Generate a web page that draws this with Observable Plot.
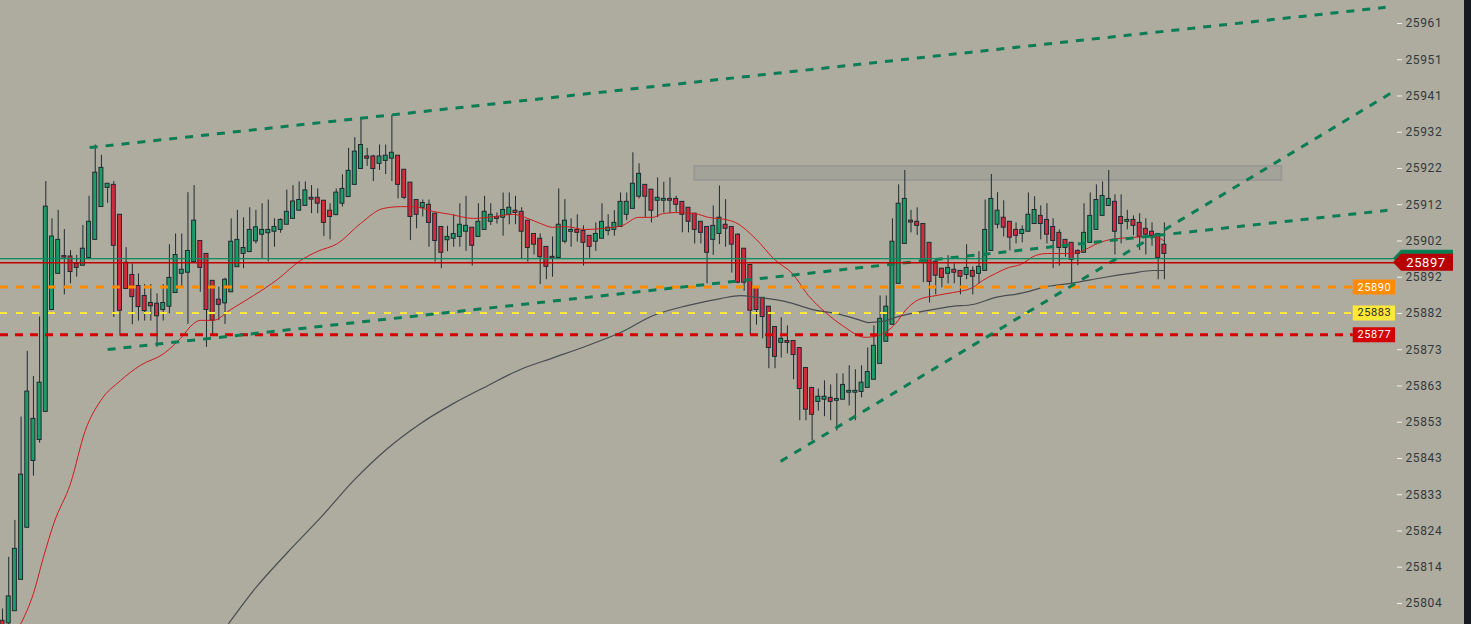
<!DOCTYPE html>
<html>
<head>
<meta charset="utf-8">
<script src="https://cdn.jsdelivr.net/npm/d3@7"></script>
<script src="https://cdn.jsdelivr.net/npm/@observablehq/plot@0.6"></script>
<style>
  html, body { margin: 0; padding: 0; background: #141a20; overflow: hidden; }
  #chart svg { display: block; }
  #chart svg text { letter-spacing: 0.6px; }
</style>
</head>
<body>
<div id="chart"></div>
<script>
// bougies (index 0..188), prix
const openP = [
  25799.2, 25798.5, 25801.8, 25810.3, 25824.4, 25842.5, 25848.2, 25855.8, 25883.4, 25893.2,
  25898.0, 25897.9, 25895.9, 25895.4, 25897.5, 25902.4, 25911.3, 25916.5, 25917.3, 25909.2,
  25896.2, 25892.9, 25889.9, 25887.2, 25885.3, 25885.1, 25883.4, 25884.3, 25888.0, 25893.2,
  25893.5, 25896.4, 25902.1, 25898.6, 25891.3, 25886.2, 25885.2, 25888.2, 25895.0, 25898.6,
  25899.1, 25902.0, 25903.8, 25904.2, 25904.6, 25905.1, 25906.5, 25908.1, 25910.3, 25911.6,
  25913.8, 25913.8, 25913.0, 25910.3, 25909.1, 25912.2, 25914.0, 25917.3, 25921.6, 25925.0,
  25925.0, 25923.0, 25923.8, 25924.4, 25925.2, 25921.4, 25917.9, 25913.2, 25911.1, 25911.9,
  25909.5, 25905.9, 25902.3, 25902.7, 25903.2, 25904.6, 25905.7, 25903.2, 25905.1, 25907.3,
  25908.6, 25908.4, 25909.2, 25910.3, 25910.0, 25907.6, 25904.0, 25902.7, 25900.5, 25897.8,
  25897.5, 25901.9, 25904.6, 25905.1, 25904.8, 25903.5, 25901.9, 25902.7, 25904.8, 25905.1,
  25905.9, 25909.2, 25910.8, 25914.1, 25917.3, 25916.0, 25913.0, 25913.0, 25913.5, 25913.5,
  25912.7, 25911.1, 25909.5, 25907.3, 25905.9, 25902.4, 25904.0, 25906.5, 25905.9, 25903.8,
  25900.0, 25895.6, 25889.4, 25886.7, 25884.3, 25878.8, 25874.5, 25875.0, 25875.0, 25873.1,
  25867.7, 25862.3, 25858.5, 25859.1, 25859.6, 25858.8, 25859.1, 25861.0, 25861.0, 25861.2,
  25862.3, 25864.5, 25868.8, 25874.8, 25879.4, 25890.5, 25901.3, 25907.6, 25907.3, 25906.7,
  25901.6, 25896.5, 25894.6, 25893.2, 25894.3, 25894.0, 25892.9, 25894.0, 25893.2, 25894.0,
  25899.4, 25906.5, 25908.4, 25907.3, 25905.1, 25904.0, 25904.6, 25906.7, 25908.9, 25907.8,
  25905.9, 25904.3, 25902.4, 25901.6, 25899.4, 25898.9, 25901.6, 25905.1, 25908.9, 25911.6,
  25912.7, 25908.6, 25907.3, 25907.8, 25907.0, 25905.4, 25904.6, 25904.0, 25901.1
];
const highP = [
  25802.4, 25816.4, 25826.4, 25854.4, 25872.2, 25865.4, 25881.5, 25918.2, 25908.1, 25910.4,
  25905.2, 25899.5, 25898.2, 25906.3, 25914.2, 25928.1, 25925.3, 25917.6, 25918.2, 25909.2,
  25900.3, 25895.9, 25893.2, 25890.3, 25890.3, 25887.8, 25890.3, 25901.1, 25904.0, 25904.0,
  25915.2, 25917.1, 25902.1, 25898.6, 25891.3, 25889.6, 25892.0, 25908.1, 25910.4, 25908.4,
  25911.1, 25910.4, 25912.2, 25913.2, 25908.1, 25908.1, 25915.9, 25917.1, 25918.1, 25918.1,
  25917.1, 25916.2, 25913.0, 25912.2, 25916.2, 25920.0, 25927.2, 25930.1, 25935.2, 25927.2,
  25925.3, 25928.1, 25928.1, 25936.1, 25925.2, 25921.4, 25917.9, 25913.2, 25913.2, 25913.2,
  25909.5, 25905.9, 25906.1, 25909.2, 25912.2, 25914.2, 25905.7, 25912.2, 25914.2, 25912.2,
  25909.7, 25915.1, 25915.1, 25914.2, 25911.1, 25907.6, 25904.0, 25904.0, 25900.5, 25903.2,
  25916.2, 25913.3, 25908.1, 25909.2, 25906.2, 25903.5, 25907.0, 25912.2, 25909.2, 25910.3,
  25915.1, 25915.1, 25926.0, 25923.0, 25917.3, 25916.0, 25919.2, 25918.0, 25919.2, 25914.2,
  25912.7, 25911.1, 25909.5, 25907.3, 25905.9, 25911.6, 25917.0, 25913.3, 25905.9, 25904.1,
  25900.0, 25895.6, 25889.4, 25886.7, 25884.3, 25878.8, 25881.3, 25879.1, 25875.0, 25873.1,
  25867.7, 25862.3, 25862.0, 25864.2, 25863.1, 25866.1, 25866.1, 25868.3, 25867.2, 25868.3,
  25873.1, 25879.1, 25887.2, 25887.2, 25908.1, 25917.3, 25921.2, 25910.4, 25911.1, 25906.7,
  25901.6, 25896.5, 25894.6, 25898.1, 25895.9, 25894.0, 25901.1, 25895.1, 25899.2, 25913.2,
  25920.1, 25915.2, 25913.0, 25907.3, 25907.0, 25906.2, 25915.1, 25914.1, 25911.6, 25912.2,
  25908.1, 25905.1, 25902.4, 25901.6, 25899.7, 25912.2, 25915.1, 25917.3, 25918.1, 25921.2,
  25914.6, 25914.6, 25910.4, 25908.9, 25909.5, 25908.1, 25907.0, 25904.0, 25907.0
];
const lowP = [
  25797.0, 25797.5, 25801.8, 25810.3, 25824.4, 25838.4, 25847.3, 25855.8, 25883.4, 25893.2,
  25887.5, 25890.5, 25892.3, 25895.4, 25897.5, 25902.4, 25911.3, 25912.3, 25881.4, 25876.3,
  25889.1, 25879.4, 25880.4, 25880.4, 25880.4, 25873.3, 25880.4, 25882.4, 25888.0, 25889.6,
  25879.5, 25896.4, 25888.2, 25873.3, 25876.2, 25880.5, 25879.5, 25888.2, 25895.0, 25894.6,
  25899.1, 25901.3, 25897.3, 25896.4, 25900.4, 25904.2, 25906.5, 25908.1, 25910.3, 25911.6,
  25909.5, 25909.5, 25903.3, 25902.4, 25909.1, 25911.3, 25914.0, 25917.3, 25921.6, 25922.3,
  25918.2, 25921.2, 25920.1, 25918.2, 25913.5, 25913.3, 25902.2, 25905.4, 25908.6, 25900.4,
  25896.4, 25894.6, 25899.2, 25900.4, 25900.4, 25899.3, 25895.3, 25903.2, 25905.1, 25906.3,
  25906.7, 25903.4, 25906.5, 25906.5, 25897.3, 25896.4, 25898.3, 25890.3, 25891.6, 25892.3,
  25897.5, 25901.3, 25900.4, 25901.8, 25895.3, 25897.4, 25899.3, 25902.7, 25903.5, 25903.4,
  25905.9, 25907.6, 25910.8, 25913.5, 25908.4, 25907.0, 25908.4, 25909.7, 25909.5, 25909.7,
  25904.3, 25904.3, 25901.3, 25901.3, 25890.5, 25898.2, 25901.1, 25900.4, 25893.4, 25890.5,
  25888.5, 25876.7, 25879.3, 25875.6, 25867.5, 25867.5, 25870.4, 25871.5, 25864.5, 25853.4,
  25853.4, 25848.0, 25856.0, 25854.5, 25853.4, 25850.6, 25859.1, 25857.4, 25853.4, 25859.6,
  25862.3, 25864.5, 25868.8, 25874.8, 25879.4, 25890.5, 25901.3, 25904.3, 25903.6, 25890.8,
  25885.3, 25887.5, 25889.4, 25890.5, 25890.5, 25887.5, 25891.6, 25887.5, 25890.5, 25894.0,
  25899.4, 25905.4, 25903.2, 25899.4, 25901.3, 25901.6, 25904.6, 25906.7, 25902.4, 25901.3,
  25894.6, 25895.3, 25897.7, 25890.5, 25895.4, 25898.9, 25901.6, 25905.1, 25908.9, 25911.6,
  25898.3, 25901.3, 25905.1, 25903.5, 25899.5, 25898.3, 25900.7, 25891.6, 25891.6
];
const closeP = [
  25798.0, 25805.8, 25818.7, 25838.8, 25861.3, 25853.9, 25863.7, 25911.4, 25903.3, 25902.4,
  25897.6, 25893.7, 25894.8, 25900.0, 25907.3, 25920.6, 25921.9, 25917.6, 25900.8, 25883.2,
  25889.1, 25886.9, 25884.2, 25883.1, 25884.4, 25881.7, 25885.3, 25892.1, 25898.3, 25894.3,
  25899.4, 25907.6, 25894.8, 25883.4, 25880.5, 25884.8, 25891.6, 25901.9, 25902.4, 25900.2,
  25905.1, 25905.8, 25905.1, 25905.1, 25905.9, 25907.8, 25910.0, 25912.8, 25913.2, 25915.8,
  25913.3, 25912.2, 25907.0, 25908.6, 25915.2, 25916.2, 25921.1, 25926.3, 25928.1, 25924.4,
  25921.6, 25925.0, 25925.2, 25926.0, 25917.3, 25913.8, 25908.6, 25909.2, 25912.4, 25907.0,
  25902.1, 25898.9, 25903.2, 25904.0, 25906.5, 25906.2, 25900.8, 25907.3, 25910.0, 25909.2,
  25908.1, 25910.5, 25911.1, 25909.7, 25904.6, 25900.2, 25901.1, 25897.7, 25895.1, 25897.4,
  25906.5, 25907.6, 25905.1, 25904.3, 25901.6, 25900.5, 25904.0, 25907.3, 25905.7, 25907.0,
  25912.7, 25912.7, 25917.6, 25920.3, 25914.1, 25910.3, 25913.8, 25913.5, 25913.0, 25911.9,
  25909.2, 25907.3, 25905.1, 25904.3, 25898.9, 25906.2, 25908.4, 25905.4, 25901.1, 25890.8,
  25890.8, 25883.2, 25883.4, 25881.5, 25873.1, 25870.7, 25875.6, 25874.5, 25871.2, 25862.0,
  25856.4, 25855.0, 25859.9, 25859.9, 25858.5, 25859.3, 25863.1, 25861.5, 25861.5, 25863.7,
  25866.6, 25873.7, 25881.0, 25884.3, 25901.9, 25912.2, 25913.5, 25907.1, 25906.2, 25896.6,
  25891.0, 25892.7, 25892.1, 25894.8, 25893.5, 25892.4, 25894.8, 25892.4, 25895.1, 25905.1,
  25913.5, 25910.3, 25905.7, 25903.0, 25903.5, 25905.1, 25909.2, 25910.5, 25906.7, 25903.8,
  25902.1, 25900.2, 25900.2, 25897.0, 25898.6, 25904.3, 25908.9, 25913.2, 25914.3, 25913.5,
  25904.6, 25906.7, 25907.8, 25906.2, 25903.2, 25903.8, 25903.5, 25897.5, 25898.6
];

// moyenne mobile rapide (rouge), points relevés
const fastIdx = [2.9, 5.0, 6.6, 8.3, 11.0, 13.4, 15.9, 19.1, 22.3, 26.1, 28.8, 30.9, 32.0, 34.1, 36.9, 40.6,
  44.5, 48.2, 51.0, 54.2, 57.9, 61.6, 64.4, 66.5, 69.7, 72.5, 76.2, 79.5, 82.7, 85.0, 87.1, 89.0, 91.1,
  94.3, 97.1, 100.3, 102.9, 105.2, 106.8, 108.9, 112.1, 114.2, 117.0, 118.6, 121.8, 125.1, 127.8, 130.4,
  133.2, 135.9, 139.6, 141.7, 144.5, 146.1, 148.2, 151.0, 153.7, 157.0, 158.6, 160.7, 162.8, 164.7,
  167.2, 169.1, 172.8, 174.9, 176.5, 179.3, 182.5, 185.3, 186.9, 187.9];
const fastVal = [25798.2, 25806.6, 25816.3, 25825.6, 25836.4, 25850.8, 25858.9, 25864.3, 25868.4, 25871.6,
  25875.7, 25879.7, 25880.6, 25880.6, 25883.5, 25887.3, 25891.7, 25896.8, 25899.3, 25901.4, 25906.8,
  25910.9, 25911.4, 25911.4, 25910.1, 25909.3, 25908.2, 25908.7, 25909.3, 25908.2, 25906.8, 25905.8,
  25906.0, 25905.2, 25905.5, 25906.3, 25908.5, 25908.5, 25909.5, 25909.8, 25909.5, 25908.5, 25907.9,
  25907.1, 25902.8, 25896.8, 25893.3, 25887.3, 25882.7, 25879.2, 25876.0, 25876.5, 25879.7, 25883.3,
  25886.2, 25887.3, 25888.1, 25889.5, 25891.4, 25893.3, 25894.9, 25895.7, 25898.2, 25898.7, 25898.7,
  25899.5, 25900.9, 25902.5, 25903.0, 25903.3, 25903.0, 25902.2];

// moyenne mobile lente (grise)
const slowIdx = [36.6, 40.6, 46.1, 51.5, 56.8, 62.3, 67.6, 73.0, 78.5, 83.8, 89.2, 94.7, 100.0, 105.3, 110.8,
  116.2, 119.4, 122.3, 125.1, 127.8, 131.1, 134.8, 138.5, 140.1, 142.4, 144.5, 149.8, 153.7, 157.0,
  160.7, 164.7, 169.1, 172.8, 178.2, 182.5, 186.2, 187.9];
const slowVal = [25798.5, 25807.4, 25817.7, 25827.2, 25837.2, 25845.9, 25852.6, 25858.1, 25862.9, 25867.3,
  25870.5, 25873.8, 25877.3, 25881.9, 25884.6, 25886.5, 25887.3, 25886.8, 25886.2, 25885.2, 25883.5,
  25882.5, 25880.8, 25880.0, 25880.3, 25881.4, 25883.3, 25884.4, 25884.9, 25886.8, 25887.9, 25889.8,
  25890.6, 25892.2, 25893.3, 25894.1, 25894.1];

// lignes de tendance (début / fin)
const trendFromIdx = [14.1, 17.0, 125.9];
const trendFromP = [25927.4, 25872.7, 25842.4];
const trendToIdx = [223.8, 224.1, 224.6];
const trendToP = [25965.4, 25910.4, 25942.1];

// niveaux horizontaux
const levelP = [25889.6, 25882.6, 25876.7];
const levelColor = ["#ff8c00", "#ffe838", "#d40000"];
const levelTextColor = ["#ffffff", "#2a2a2a", "#ffffff"];
const levelDash = ["8,8", "7,9", "8,7"];
const levelWidth = [3, 2, 3];

// bid / ask
const bidP = 25896.2;
const askP = 25897.3;

// zone grise
const zoneIdx = [112.0, 207.0];
const zoneP = [25918.5, 25922.3];

// graduations de l'axe
const yTicks = [25803.9, 25813.72, 25823.54, 25833.36, 25843.18, 25853.0, 25862.82, 25872.64, 25882.46,
  25892.28, 25902.1, 25911.92, 25921.74, 25931.56, 25941.38, 25951.2, 25961.02];

const xDomain = [-0.33, 225.56];
const yDomain = [25798.2, 25967.25];

const candles = openP.map((o, i) => ({i, o, h: highP[i], l: lowP[i], c: closeP[i], up: closeP[i] >= o}));
const fast = fastIdx.map((i, k) => ({i, v: fastVal[k]}));
const slow = slowIdx.map((i, k) => ({i, v: slowVal[k]}));
const trends = trendFromIdx.map((i, k) => ({x1: i, y1: trendFromP[k], x2: trendToIdx[k], y2: trendToP[k]}));
const levels = levelP.map((p, k) => ({p, label: String(Math.round(p)), color: levelColor[k], text: levelTextColor[k]}));
const boxL = xDomain[1] - 7, boxR = xDomain[1] - 0.15, boxMid = (boxL + boxR) / 2;

function priceTag(index, scales, values, dimensions) {
  const yb = scales.y(bidP), ya = scales.y(askP);
  const x0 = dimensions.width - dimensions.marginRight - 3;
  const g = d3.create("svg:g");
  const shape = (y) => `M${x0},${y} L${x0 + 8},${y - 8.5} L${x0 + 60},${y - 8.5} L${x0 + 60},${y + 8.5} L${x0 + 8},${y + 8.5} Z`;
  g.append("path").attr("d", shape(ya)).attr("fill", "#0b7d55");
  g.append("path").attr("d", shape(yb)).attr("fill", "#b80000");
  g.append("text").attr("x", x0 + 33).attr("y", yb).attr("dy", "0.36em")
    .attr("text-anchor", "middle").attr("fill", "white").attr("font-size", 13)
    .text(String(Math.round(askP)));
  return g.node();
}

// une ligne pointillée par niveau (le motif ne peut pas être un canal)
const levelLines = levels.map((d, k) => Plot.ruleY([d], {
  y: "p", x1: () => xDomain[0], x2: () => boxL, stroke: d.color,
  strokeWidth: levelWidth[k], strokeDasharray: levelDash[k]
}));

const chart = Plot.plot({
  width: 1464,
  height: 624,
  marginLeft: 0,
  marginRight: 68,
  marginTop: 0,
  marginBottom: 0,
  style: {background: "#adac9f", fontFamily: "Roboto, sans-serif", fontSize: "12px"},
  x: {domain: xDomain, axis: null},
  y: {domain: yDomain, axis: null},
  color: {type: "identity"},
  marks: [
    Plot.rect([0], {x1: () => zoneIdx[0], x2: () => zoneIdx[1], y1: () => zoneP[0], y2: () => zoneP[1],
      fill: "#a3a39a", stroke: "#9a9a94", strokeWidth: 2}),
    // bougies
    Plot.ruleX(candles, {x: "i", y1: "l", y2: "h", stroke: "#1f2a31", strokeWidth: 1}),
    Plot.rect(candles, {x1: d => d.i - 0.32, x2: d => d.i + 0.32,
      y1: d => Math.min(d.o, d.c), y2: d => Math.max(d.o, d.c),
      fill: d => d.up ? "#1e9c68" : "#d42b3c", stroke: "#1f2a31", strokeWidth: 1}),
    // moyennes mobiles
    Plot.line(slow, {x: "i", y: "v", stroke: "#4a4d51", strokeWidth: 1.2, curve: "monotone-x"}),
    Plot.line(fast, {x: "i", y: "v", stroke: "#d0191c", strokeWidth: 1, curve: "monotone-x"}),
    // niveaux
    ...levelLines,
    Plot.ruleY(levels, {y: "p", x1: () => boxL, x2: () => boxR, stroke: "color", strokeWidth: 15}),
    Plot.text(levels, {y: "p", x: () => boxMid, text: "label", fill: "text", fontSize: 11}),
    // tendances
    Plot.link(trends, {x1: "x1", y1: "y1", x2: "x2", y2: "y2", stroke: "#0b7d55", strokeWidth: 3,
      strokeDasharray: "8,8"}),
    // bid / ask
    Plot.ruleY([askP], {stroke: "#0e8a5c", strokeWidth: 1.3}),
    Plot.ruleY([bidP], {stroke: "#c20000", strokeWidth: 1.3}),
    Plot.axisY({anchor: "right", ticks: yTicks, tickFormat: d => d.toFixed(0), tickSize: 5, tickPadding: 4,
      stroke: "#f2f2f2", fill: "#33383d", fontSize: 12}),
    priceTag
  ]
});

document.getElementById("chart").appendChild(chart);
</script>
</body>
</html>
